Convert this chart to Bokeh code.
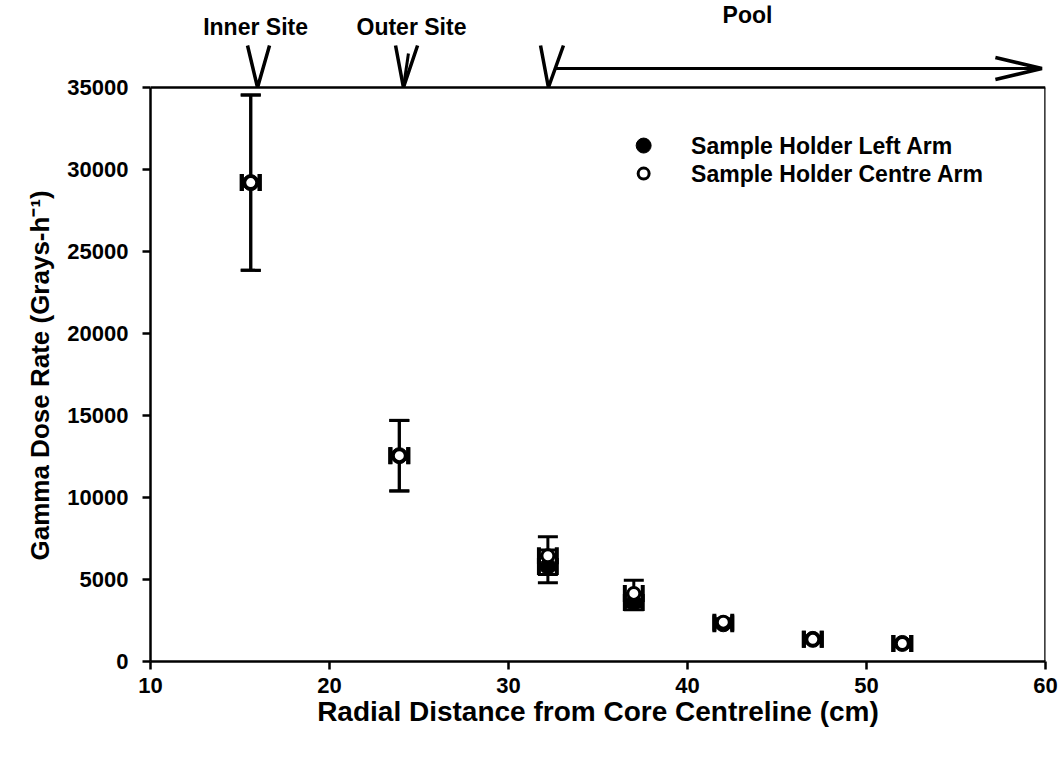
from bokeh.plotting import figure
from bokeh.models import Whisker, TeeHead, ColumnDataSource, FixedTicker, Range1d, Title
from bokeh.core.properties import value
from bokeh.embed import file_html
from bokeh.resources import INLINE

# ---------------- data ----------------
distance = [15.6, 23.9, 32.2, 37.0, 42.0, 47.0, 52.0]
left_arm = [29200, 12550, 5800, 3600, 2300, 1350, 1100]
left_err = [5350, 2150, 1000, 450, 200, 150, 150]
centre_arm = [29200, 12550, 6450, 4150, 2400, 1350, 1100]
centre_err = [5350, 2150, 1150, 800, 200, 150, 150]
dist_err = 0.5

x_ticks = [10, 20, 30, 40, 50, 60]
y_ticks = [0, 5000, 10000, 15000, 20000, 25000, 30000, 35000]

site_labels = ["Inner Site", "Outer Site", "Pool"]
site_label_x = [15.87, 24.58, 43.35]
site_label_y = [38660, 38660, 39450]
site_tip_x = [15.98, 24.13, 32.23]
site_left_x = [15.42, 23.69, 31.79]
site_right_x = [16.65, 24.92, 33.07]
pool_start = 32.6
pool_end = 59.8

legend_labels = ["Sample Holder Left Arm", "Sample Holder Centre Arm"]
legend_mark_x = 37.55
legend_text_x = 40.2
legend_y = [31460, 29750]

X_MIN, X_MAX = 10, 60
Y_MAX = 35000
FONT = "Liberation Sans"
Y_TITLE = "Gamma Dose Rate (Grays-h\u207b\u00b9)"

p = figure(width=1062, height=758, output_backend="svg", toolbar_location=None,
           x_range=Range1d(X_MIN, X_MAX), y_range=Range1d(0, 40000),
           min_border_left=150, min_border_right=17, min_border_top=5,
           min_border_bottom=97)
p.outline_line_color = None
p.background_fill_color = "white"
p.border_fill_color = "white"
p.xgrid.visible = False
p.ygrid.visible = False

for ax in (p.xaxis[0], p.yaxis[0]):
    ax.axis_line_width = 2.5
    ax.major_tick_line_width = 2.5
    ax.major_tick_out = 8
    ax.major_tick_in = 0
    ax.minor_tick_out = 0
    ax.minor_tick_in = 0
    ax.major_label_text_font = FONT
    ax.major_label_text_font_style = "bold"
    ax.major_label_text_font_size = "22px"
    ax.major_label_text_color = "black"
    ax.axis_label_text_font = FONT
    ax.axis_label_text_font_style = "bold"
    ax.axis_label_text_font_size = "28px"
    ax.axis_label_text_color = "black"

p.xaxis.ticker = FixedTicker(ticks=x_ticks)
p.yaxis.ticker = FixedTicker(ticks=y_ticks)
p.yaxis.bounds = (0, Y_MAX)
p.xaxis.axis_label = "Radial Distance from Core Centreline (cm)"
p.xaxis.major_label_standoff = 8
p.yaxis.major_label_standoff = 14
p.xaxis.axis_label_standoff = 0

p.add_layout(Title(text=Y_TITLE, align="left", offset=101, standoff=19,
                   text_font=FONT, text_font_style="bold", text_font_size="26px",
                   text_color="black"), "left")

# frame top and right
p.segment(x0=[X_MIN, X_MAX], y0=[Y_MAX, 0], x1=[X_MAX, X_MAX], y1=[Y_MAX, Y_MAX],
          line_color="black", line_width=2.5)


def add_errors(ys, errs):
    src = ColumnDataSource(dict(
        x=distance, y=ys,
        lo=[y - e for y, e in zip(ys, errs)],
        hi=[y + e for y, e in zip(ys, errs)],
        xl=[x - dist_err for x in distance],
        xh=[x + dist_err for x in distance]))
    p.add_layout(Whisker(source=src, base="x", lower="lo", upper="hi",
                         dimension="height", line_color="black", line_width=3,
                         upper_head=TeeHead(size=20, line_width=3, line_color="black"),
                         lower_head=TeeHead(size=20, line_width=3, line_color="black")))
    p.add_layout(Whisker(source=src, base="y", lower="xl", upper="xh",
                         dimension="width", line_color="black", line_width=3,
                         upper_head=TeeHead(size=17, line_width=4, line_color="black"),
                         lower_head=TeeHead(size=17, line_width=4, line_color="black")))


add_errors(left_arm, left_err)
add_errors(centre_arm, centre_err)

p.scatter(distance, left_arm, marker="circle", size=16, fill_color="black",
          line_color="black")
p.scatter(distance, centre_arm, marker="circle", size=12, fill_color="white",
          line_color="black", line_width=3)

# site markers at the top
vx = [[l, t, r] for l, t, r in zip(site_left_x, site_tip_x, site_right_x)]
vy = [[37560, Y_MAX, 37560] for _ in site_tip_x]
p.multi_line(vx, vy, line_color="black", line_width=3.5)
p.segment(x0=[site_tip_x[1]], y0=[Y_MAX], x1=[24.41], y1=[37070],
          line_color="black", line_width=3)
p.text(x=site_label_x, y=site_label_y, text=site_labels,
       text_font=value(FONT), text_font_style="bold", text_font_size="23px",
       text_align="center", text_baseline="middle", text_color="black")

# pool arrow
p.segment(x0=[pool_start], y0=[36160], x1=[pool_end], y1=[36160],
          line_color="black", line_width=3)
p.multi_line([[57.2, pool_end, 57.2]], [[36830, 36160, 35490]],
             line_color="black", line_width=3.5)

# legend
p.scatter([legend_mark_x], [legend_y[0]], marker="circle", size=15,
          fill_color="black", line_color="black")
p.scatter([legend_mark_x], [legend_y[1]], marker="circle", size=11,
          fill_color="white", line_color="black", line_width=3)
p.text(x=[legend_text_x] * 2, y=legend_y, text=legend_labels,
       text_font=value(FONT), text_font_style="bold", text_font_size="23px",
       text_align="left", text_baseline="middle", text_color="black")

open("out.html", "w").write(file_html(p, INLINE))
